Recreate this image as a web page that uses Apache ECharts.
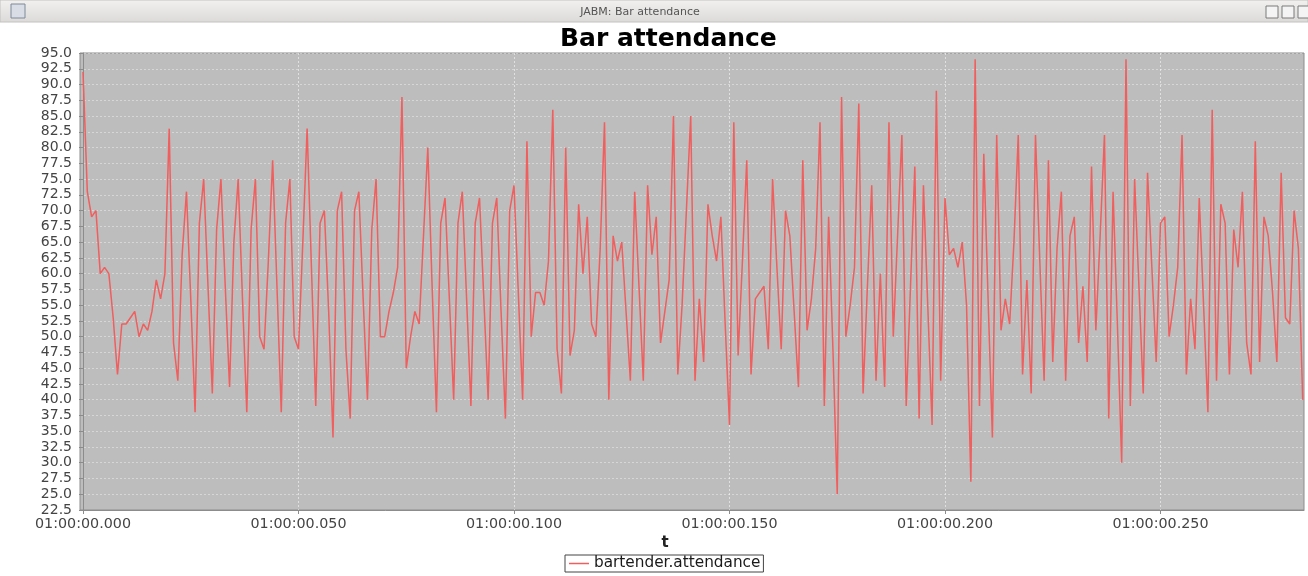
<!DOCTYPE html>
<html>
<head>
<meta charset="utf-8">
<script src="https://cdn.jsdelivr.net/npm/echarts@6/dist/echarts.min.js"></script>
<style>
html,body{margin:0;padding:0;background:#ffffff;}
#chart{width:1308px;height:576px;}
</style>
</head>
<body>
<div id="chart"></div>
<script>
// attendance values, one per millisecond starting at 01:00:00.000
const attendance = [
  92,73,69,70,60,61,60,53,44,52,52,53,54,50,52,51,54,59,56,60,83,49,43,63,73,56,38,68,75,
  58,41,67,75,58,42,65,75,56,38,67,75,50,48,62,78,58,38,68,75,50,48,65,83,61,39,68,70,
  54,34,70,73,48,37,70,73,56,40,67,75,50,50,54,57,61,88,45,50,54,52,66,80,58,38,68,72,56,40,
  68,73,56,39,68,72,56,40,68,72,54,37,70,74,57,40,81,50,57,57,55,62,86,48,41,80,47,51,71,
  60,69,52,50,64,84,40,66,62,65,54,43,73,58,43,74,63,69,49,54,59,85,44,55,70,85,43,56,46,
  71,66,62,69,52,36,84,47,62,78,44,56,57,58,48,75,61,48,70,66,54,42,78,51,56,64,84,39,69,
  48,25,88,50,55,61,87,41,58,74,43,60,42,84,50,66,82,39,58,77,37,74,55,36,89,43,72,63,64,
  61,65,55,27,94,39,79,56,34,82,51,56,52,65,82,44,59,41,82,62,43,78,46,64,73,43,66,69,49,
  58,46,77,51,66,82,37,73,52,30,94,39,75,58,41,76,61,46,68,69,50,55,61,82,44,56,48,72,
  55,38,86,43,71,68,44,67,61,73,49,44,81,46,69,66,57,46,76,53,52,70,64,40
];
// time in ms after 01:00:00.000
const timesMs = attendance.map((v, i) => i);
const xTickValues = [0, 50, 100, 150, 200, 250];
const seriesName = 'bartender.attendance';
const chartTitle = 'Bar attendance';
const windowTitle = 'JABM: Bar attendance';

const seriesData = timesMs.map((t, i) => [t, attendance[i]]);
const fmtTime = v => '01:00:00.' + String(Math.round(v)).padStart(3, '0');

const chart = echarts.init(document.getElementById('chart'), null, {renderer: 'canvas'});
const FONT = '"DejaVu Sans", sans-serif';

chart.setOption({
  backgroundColor: '#ffffff',
  animation: false,
  title: {
    text: chartTitle,
    left: 555,
    top: 22,
    textStyle: {fontFamily: FONT, fontSize: 25, fontWeight: 'bold', color: '#000000'}
  },
  legend: {
    data: [{name: seriesName, icon: 'rect'}],
    left: 565,
    top: 555,
    itemWidth: 20,
    itemHeight: 1.5,
    itemGap: 4,
    padding: [1, 3, 1, 4],
    borderColor: '#444444',
    borderWidth: 1,
    textStyle: {fontFamily: FONT, fontSize: 15.3, color: '#1a1a1a'}
  },
  grid: {
    left: 80, top: 53, width: 1224, height: 457,
    show: true,
    backgroundColor: '#bdbdbd',
    borderColor: '#8c8c8c',
    borderWidth: 1,
    containLabel: false
  },
  xAxis: {
    type: 'value',
    min: -0.7,
    max: 283.3,
    name: 't',
    nameLocation: 'middle',
    nameGap: 26,
    nameTextStyle: {fontFamily: FONT, fontSize: 15, fontWeight: 'bold', color: '#222222', padding: [0, 54, 0, 0]},
    axisLine: {show: true, onZero: false, lineStyle: {color: '#8c8c8c'}},
    axisTick: {show: true, customValues: xTickValues, length: 4, lineStyle: {color: '#8c8c8c'}},
    axisLabel: {
      customValues: xTickValues,
      formatter: fmtTime,
      margin: 7,
      fontFamily: FONT, fontSize: 14.3, color: '#444444'
    },
    splitLine: {show: true, lineStyle: {color: 'rgba(255,255,255,0.75)', type: [2, 2], width: 0.7}}
  },
  yAxis: {
    type: 'value',
    min: 22.5,
    max: 95,
    interval: 2.5,
    axisLine: {show: true, lineStyle: {color: '#8c8c8c'}},
    axisTick: {show: true, length: 4, lineStyle: {color: '#8c8c8c'}},
    axisLabel: {
      formatter: v => v.toFixed(1),
      margin: 8,
      fontFamily: FONT, fontSize: 14, color: '#444444'
    },
    splitLine: {show: true, lineStyle: {color: 'rgba(255,255,255,0.55)', type: [2, 2], width: 0.7}}
  },
  series: [{
    name: seriesName,
    type: 'line',
    data: seriesData,
    showSymbol: false,
    symbol: 'none',
    lineStyle: {color: '#f05e5e', width: 1.5},
    itemStyle: {color: '#f05e5e'},
    emphasis: {disabled: true}
  }],
  graphic: [
    {type: 'rect', shape: {x: 0, y: 0, width: 1308, height: 22},
     style: {fill: new echarts.graphic.LinearGradient(0, 0, 0, 1, [
       {offset: 0, color: '#f2f1f0'}, {offset: 1, color: '#dcdad8'}]),
       stroke: '#c4c2c0', lineWidth: 1}, z: 10},
    {type: 'rect', shape: {x: 11, y: 4, width: 14, height: 14},
     style: {fill: '#d8dde6', stroke: '#7f8a9a', lineWidth: 1}, z: 11},
    {type: 'text', x: 640, y: 7,
     style: {text: windowTitle, fontFamily: FONT, fontSize: 11, fill: '#555555', textAlign: 'center'}, z: 11},
    {type: 'rect', shape: {x: 1266, y: 6, width: 12, height: 12},
     style: {fill: '#f4f4f4', stroke: '#7a7a7a', lineWidth: 1}, z: 11},
    {type: 'rect', shape: {x: 1282, y: 6, width: 12, height: 12},
     style: {fill: '#f4f4f4', stroke: '#7a7a7a', lineWidth: 1}, z: 11},
    {type: 'rect', shape: {x: 1298, y: 6, width: 12, height: 12},
     style: {fill: '#f4f4f4', stroke: '#7a7a7a', lineWidth: 1}, z: 11}
  ]
});
</script>
</body>
</html>
